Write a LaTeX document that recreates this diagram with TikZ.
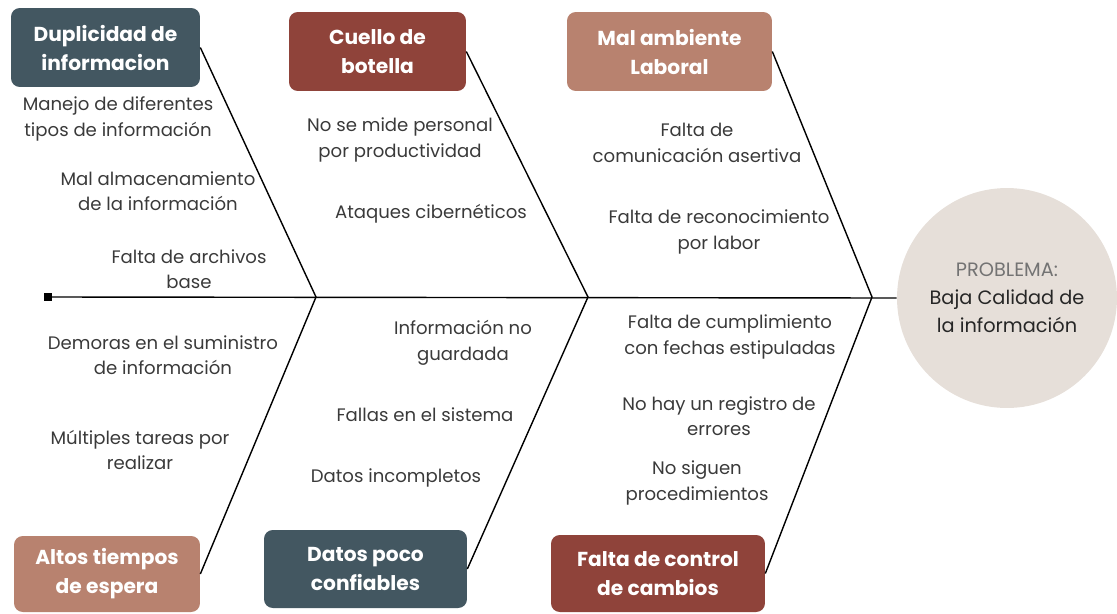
\documentclass[tikz,border=0pt]{standalone}
\usepackage{fontspec}
\setmainfont{Poppins}
\usepackage{tikz}

\definecolor{slate}{HTML}{435761}
\definecolor{brick}{HTML}{8F433A}
\definecolor{clay}{HTML}{B8826F}
\definecolor{sand}{HTML}{E6DFD9}
\definecolor{ink}{HTML}{3A3A3A}

\tikzset{
  cause/.style={rounded corners=5pt, text=white, align=center, font=\bfseries\fontsize{11.5}{16.5}\selectfont, inner sep=0pt},
  reason/.style={align=center, text=ink, font=\fontsize{10.3}{14.5}\selectfont, inner sep=0pt},
  bone/.style={line width=0.8pt}
}

\begin{document}
\begin{tikzpicture}[x=0.02cm, y=-0.02cm]
        \useasboundingbox (0,0) rectangle (1117,613);

        % Problem (head of the fish)
        \node[circle, fill=sand, minimum size=4.4cm, align=center, font=\fontsize{11}{16}\selectfont] (problem) at (1007,298)
          {\textcolor{gray!90!black}{PROBLEMA:}\\ \textcolor{black!85}{Baja Calidad de}\\ \textcolor{black!85}{la información}};

        % Spine
        \coordinate (tail) at (48,297);
        \coordinate (j1) at (316,297);
        \coordinate (j2) at (588,297);
        \coordinate (j3) at (872,297);
        \draw[bone] (tail) -- (problem.west);
        \fill (tail) ++(-4,-4) rectangle ++(8,8);

        % Causes on top
        \node[cause, fill=slate, minimum width=3.78cm, minimum height=1.58cm] (dup) at (105.5,47.5) {Duplicidad de\\informacion};
        \node[cause, fill=brick, minimum width=3.54cm, minimum height=1.58cm] (neck) at (377.5,51.5) {Cuello de\\botella};
        \node[cause, fill=clay, minimum width=4.10cm, minimum height=1.58cm] (mood) at (669.5,51.5) {Mal ambiente\\Laboral};

        % Causes at the bottom
        \node[cause, fill=clay, minimum width=3.72cm, minimum height=1.52cm] (wait) at (107,574) {Altos tiempos\\de espera};
        \node[cause, fill=slate, minimum width=4.06cm, minimum height=1.56cm] (data) at (365.5,569) {Datos poco\\confiables};
        \node[cause, fill=brick, minimum width=4.28cm, minimum height=1.54cm] (ctrl) at (658,573.5) {Falta de control\\de cambios};

        % Bones
        \draw[bone] (dup.east) -- (j1) -- (wait.east);
        \draw[bone] (neck.east) -- (j2) -- (data.east);
        \draw[bone] (mood.east) -- (j3) -- (ctrl.east);

        % Reasons
        \node[reason] (r1) at (118,119) {Manejo de diferentes\\tipos de información};
        \node[reason] (r2) at (158,191) {Mal almacenamiento\\de la información};
        \node[reason] (r3) at (189,269) {Falta de archivos\\base};
        \node[reason] (r4) at (163,355) {Demoras en el suministro\\de información};
        \node[reason] (r5) at (140,450) {Múltiples tareas por\\realizar};

        \node[reason] (r6) at (400,140) {No se mide personal\\por productividad};
        \node[reason] (r7) at (431,214) {Ataques cibernéticos};
        \node[reason] (r8) at (463,343) {Información no\\guardada};
        \node[reason] (r9) at (425,415) {Fallas en el sistema};
        \node[reason] (r10) at (396,478) {Datos incompletos};

        \node[reason] (r11) at (697,143) {Falta de\\comunicación asertiva};
        \node[reason] (r12) at (719,232) {Falta de reconocimiento\\por labor};
        \node[reason] (r13) at (730,337) {Falta de cumplimiento\\con fechas estipuladas};
        \node[reason] (r14) at (719,416) {No hay un registro de\\errores};
        \node[reason] (r15) at (697,483) {No siguen\\procedimientos};
\end{tikzpicture}
\end{document}
